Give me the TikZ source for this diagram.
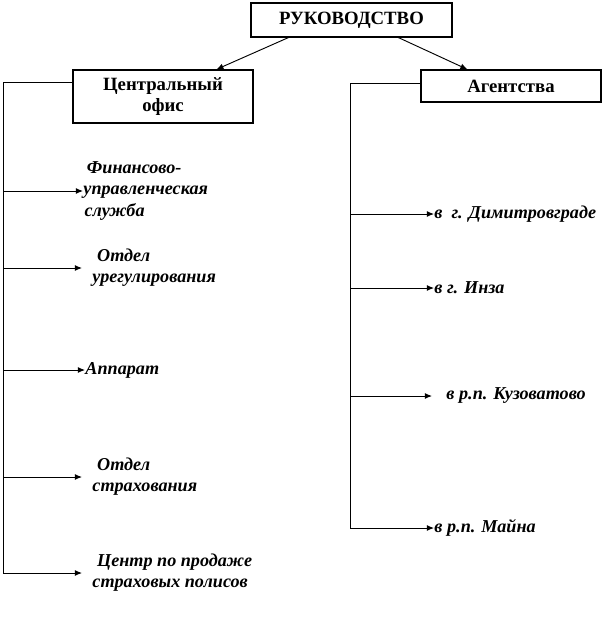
\documentclass[tikz,border=0pt]{standalone}
\usepackage{fontspec}
\setmainfont{Liberation Serif}
\usetikzlibrary{arrows.meta}

\tikzset{
  box/.style={draw, line width=1pt, align=center, font=\fontsize{16}{18.5}\selectfont\bfseries},
  item/.style={anchor=west, inner sep=0pt, align=left, font=\fontsize{15.5}{18}\selectfont\bfseries\itshape},
  arr/.style={-{Latex[length=6pt,width=5pt]}},
}

\begin{document}
\begin{tikzpicture}[x=0.03cm, y=-0.03cm, line width=0.8pt]
	\useasboundingbox (0,0) rectangle (611,623);

	% boxes
	\node[box, minimum width=6.03cm, minimum height=1.02cm] (boss) at (351.5,20) {РУКОВОДСТВО};
	\node[box, minimum width=5.4cm, minimum height=1.59cm] (cof) at (163,96.5) {Центральный\\офис};
	\node[box, minimum width=5.4cm, minimum height=0.96cm] (agn) at (511,86) {Агентства};

	\draw[arr] ([xshift=1.14cm]boss.south west) -- ([xshift=4.32cm]cof.north west);
	\draw[arr] ([xshift=4.44cm]boss.south west) -- ([xshift=1.41cm]agn.north west);

	% central office
	\node[item] (fin) at (83,191) {\hspace{3pt}Финансово-\\управленческая\\\hspace{1pt}служба};
	\node[item] (reg) at (92,268) {\hspace{4pt}Отдел\\урегулирования};
	\node[item] (app) at (85,370) {Аппарат};
	\node[item] (ins) at (92,477) {\hspace{4pt}Отдел\\страхования};
	\node[item] (cen) at (92,573) {\hspace{4pt}Центр по продаже\\страховых полисов};

	\coordinate (lt) at (3,82);
	\draw (lt -| cof.west) -- (lt) -- (lt |- cen.west);
	\draw[arr] (lt |- fin.west) -- (fin.west);
	\draw[arr] (lt |- reg.west) -- ++(79,0);
	\draw[arr] (lt |- app.west) -- (app.west);
	\draw[arr] (lt |- ins.west) -- ++(79,0);
	\draw[arr] (lt |- cen.west) -- ++(79,0);

	% agencies
	\node[item] (dim) at (434,214) {в \ г. Димитровграде};
	\node[item] (inz) at (434,288) {в г. Инза};
	\node[item] (kuz) at (446,396) {в р.п. Кузоватово};
	\node[item] (may) at (434,528) {в р.п. Майна};

	\coordinate (rt) at (350,83);
	\draw (rt -| agn.west) -- (rt) -- (rt |- may.west);
	\draw[arr] (rt |- dim.west) -- (dim.west);
	\draw[arr] (rt |- inz.west) -- (inz.west);
	\draw[arr] (rt |- kuz.west) -- ++(82,0);
	\draw[arr] (rt |- may.west) -- (may.west);
\end{tikzpicture}
\end{document}
